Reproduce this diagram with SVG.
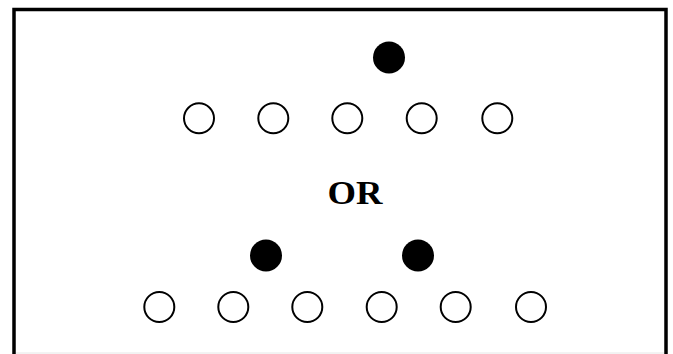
<svg xmlns="http://www.w3.org/2000/svg" width="673" height="354" viewBox="0 0 673 354">
<style>
.open{fill:#fff;stroke:#000;stroke-width:2}
.fill{fill:#000}
.lbl{font-family:"Liberation Serif","Times New Roman",serif;font-weight:bold;font-size:34px;fill:#000}
</style>
<rect x="0" y="0" width="673" height="354" fill="#fff"/>
<g id="frame">
<path d="M14,354 V9.5 H666 V354" fill="none" stroke="#000" stroke-width="3.5"/>
<line x1="16" y1="353" x2="664" y2="353" stroke="#e6e6e6" stroke-width="1"/>
</g>
<g id="top-filled"><circle class="fill" cx="389" cy="57.5" r="16"/></g>
<g id="top-row">
<circle class="open" cx="199" cy="118.3" r="15"/>
<circle class="open" cx="273.3" cy="118.3" r="15"/>
<circle class="open" cx="347.3" cy="118.3" r="15"/>
<circle class="open" cx="421.7" cy="118.3" r="15"/>
<circle class="open" cx="497.3" cy="118.3" r="15"/>
</g>
<g id="or-label"><text class="lbl" x="355" y="203.5" text-anchor="middle" textLength="55" lengthAdjust="spacingAndGlyphs">OR</text></g>
<g id="bottom-filled">
<circle class="fill" cx="266" cy="255.5" r="16"/>
<circle class="fill" cx="418" cy="255.5" r="16"/>
</g>
<g id="bottom-row">
<circle class="open" cx="159.3" cy="307" r="15"/>
<circle class="open" cx="233.3" cy="307" r="15"/>
<circle class="open" cx="307.3" cy="307" r="15"/>
<circle class="open" cx="381.7" cy="307" r="15"/>
<circle class="open" cx="455.7" cy="307" r="15"/>
<circle class="open" cx="531" cy="307" r="15"/>
</g>
<g id="connectors"></g>
</svg>
